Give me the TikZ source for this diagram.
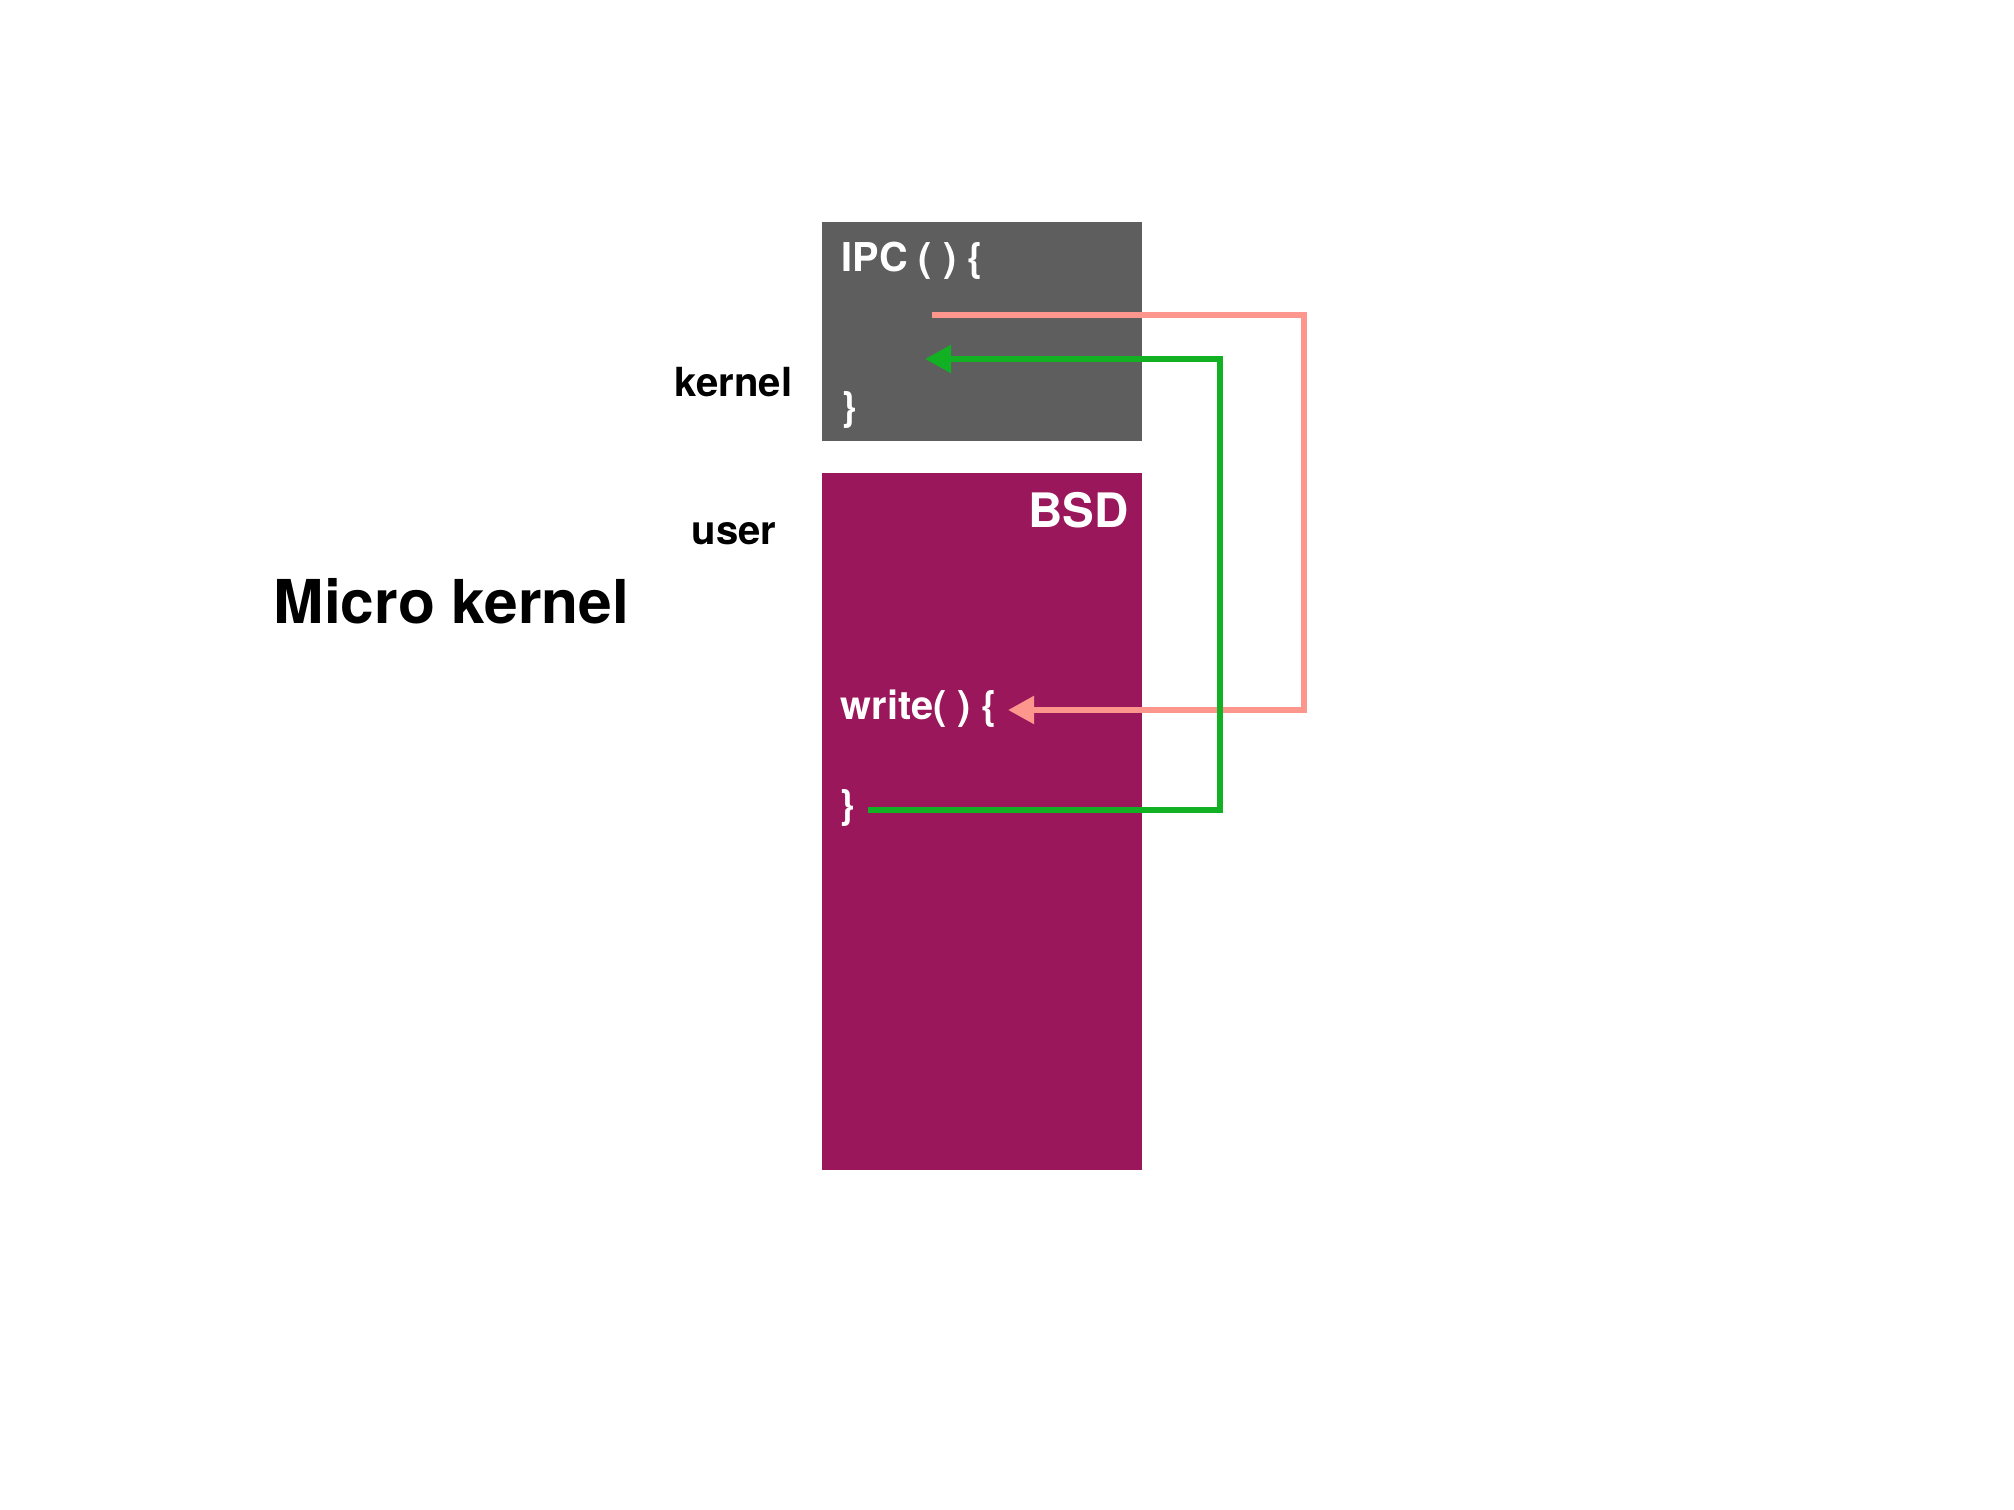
\documentclass[tikz,border=0pt]{standalone}
\usepackage{fontspec}
\setmainfont{TeX Gyre Heros}
\usetikzlibrary{arrows.meta}
\definecolor{grayc}{RGB}{94,94,94}
\definecolor{magc}{RGB}{154,23,92}
\definecolor{pinkc}{RGB}{253,150,140}
\definecolor{greenc}{RGB}{18,176,35}
\tikzset{
  box/.style={anchor=north west, inner sep=0pt, outer sep=0pt, draw=none},
  code/.style={inner sep=0pt, text=white, font=\bfseries\fontsize{11.3pt}{13pt}\selectfont},
  lab/.style={inner sep=0pt, text=black, font=\bfseries\fontsize{11.4pt}{13pt}\selectfont},
  pinkline/.style={draw=pinkc, line width=1.7pt, line join=miter, -{Triangle[length=7.4pt,width=7.6pt]}},
  greenline/.style={draw=greenc, line width=1.7pt, line join=miter, -{Triangle[length=7.4pt,width=7.6pt]}}
}
\begin{document}
\begin{tikzpicture}[x=0.01cm, y=-0.01cm]
\useasboundingbox (0,0) rectangle (2014,1510);
% boxes
\node[box, fill=grayc, minimum width=3.2cm, minimum height=2.19cm] (kbox) at (822,222) {};
\node[box, fill=magc, minimum width=3.2cm, minimum height=6.97cm] (ubox) at (822,473) {};
% texts
\node[code, anchor=base west] (ipc) at (841,272) {IPC ( ) \{};
\node[code, anchor=base west] (ipcend) at (841,421) {\}};
\node[inner sep=0pt, text=white, font=\bfseries\fontsize{13.5pt}{15pt}\selectfont, anchor=base east] (bsd) at (1129,528) {BSD};
\node[code, anchor=base west] (write) at (840,720) {write( ) \{};
\node[code, anchor=base west] (writeend) at (839,819) {\}};
\node[lab, anchor=base east] (klab) at (793,397) {kernel};
\node[lab, anchor=base] (ulab) at (734,545) {user};
\node[inner sep=0pt, font=\bfseries\fontsize{17.2pt}{20pt}\selectfont, anchor=base west] (title) at (273,624) {Micro kernel};
% connector points
\coordinate (ps) at (932,315);
\coordinate (pa) at (1304,315);
\coordinate (pb) at (1304,710);
\coordinate (pe) at (1008,710);
\coordinate (gs) at (868,810);
\coordinate (ga) at (1220,810);
\coordinate (gb) at (1220,359);
\coordinate (ge) at (925,359);
\draw[pinkline] (ps) -- (pa) -- (pb) -- (pe);
\draw[greenline] (gs) -- (ga) -- (gb) -- (ge);
\end{tikzpicture}
\end{document}
